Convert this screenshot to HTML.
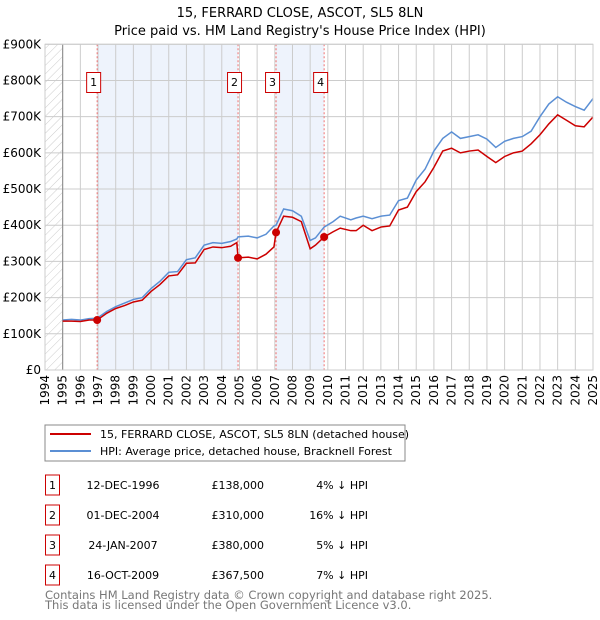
<!DOCTYPE html>
<html><head><meta charset="utf-8"><style>
body{margin:0;background:#fff;width:600px;height:620px;overflow:hidden;font-family:"DejaVu Sans","Liberation Sans",sans-serif}
svg{display:block}
</style></head><body>
<svg id="c" width="600" height="620" xmlns="http://www.w3.org/2000/svg" font-family="DejaVu Sans, Liberation Sans, sans-serif">
<defs><pattern id="hatch" width="6" height="6" patternUnits="userSpaceOnUse" patternTransform="rotate(45)"><line x1="0" y1="0" x2="0" y2="6" stroke="#ccc" stroke-width="1"/></pattern></defs>
<text x="300" y="17" text-anchor="middle" font-size="13">15, FERRARD CLOSE, ASCOT, SL5 8LN</text>
<text x="300" y="35" text-anchor="middle" font-size="13">Price paid vs. HM Land Registry's House Price Index (HPI)</text>
<g id="plot"></g>
<rect x="45" y="425" width="360" height="36" fill="#fff" stroke="#888"/>
<line x1="50" y1="434" x2="91" y2="434" stroke="#cc0000" stroke-width="2"/>
<text x="100" y="438" font-size="11">15, FERRARD CLOSE, ASCOT, SL5 8LN (detached house)</text>
<line x1="50" y1="451" x2="91" y2="451" stroke="#5b8fd4" stroke-width="2"/>
<text x="100" y="455" font-size="11">HPI: Average price, detached house, Bracknell Forest</text>
<g id="tbl" font-size="11"></g>
<text x="45" y="599" font-size="11.5" fill="#777">Contains HM Land Registry data © Crown copyright and database right 2025.</text>
<text x="45" y="609" font-size="11.5" fill="#777">This data is licensed under the Open Government Licence v3.0.</text>
</svg>
<script>
const yearTicks=[1994,1995,1996,1997,1998,1999,2000,2001,2002,2003,2004,2005,2006,2007,2008,2009,2010,2011,2012,2013,2014,2015,2016,2017,2018,2019,2020,2021,2022,2023,2024,2025];
const priceTicks=[0,100,200,300,400,500,600,700,800,900];
const priceTickLabels=["£0","£100K","£200K","£300K","£400K","£500K","£600K","£700K","£800K","£900K"];
const dates=[1995.0,1995.5,1996.0,1996.5,1996.95,1997.5,1998.0,1998.5,1999.0,1999.5,2000.0,2000.5,2001.0,2001.5,2002.0,2002.5,2003.0,2003.5,2004.0,2004.5,2004.85,2004.92,2005.5,2006.0,2006.5,2006.95,2007.07,2007.5,2008.0,2008.5,2009.0,2009.3,2009.79,2010.3,2010.7,2011.3,2011.6,2012.0,2012.5,2013.0,2013.5,2014.0,2014.5,2015.0,2015.5,2016.0,2016.5,2017.0,2017.5,2018.0,2018.5,2019.0,2019.5,2020.0,2020.5,2021.0,2021.5,2022.0,2022.5,2023.0,2023.5,2024.0,2024.5,2025.0];
const hpiValues=[138,140,138,142,143,162,175,185,195,200,225,245,270,272,305,310,345,352,350,355,362,368,370,365,375,398,400,445,440,425,358,365,395,410,425,415,420,425,418,425,428,468,475,525,555,605,640,658,640,645,650,638,615,632,640,645,660,700,735,755,740,728,718,750];
const priceValues=[135,135,134,138,138,157,170,178,188,193,217,236,260,263,295,296,333,340,338,342,352,310,312,307,320,340,380,425,422,410,335,345,367.5,382,392,385,385,400,385,395,398,442,450,493,520,560,605,613,600,605,608,590,573,590,600,605,625,650,680,705,690,675,672,699];
const saleLabels=["1","2","3","4"];
const saleDates=[1996.95,2004.92,2007.07,2009.79];
const saleValues=[138,310,380,367.5];
const saleDateText=["12-DEC-1996","01-DEC-2004","24-JAN-2007","16-OCT-2009"];
const salePriceText=["£138,000","£310,000","£380,000","£367,500"];
const saleHpiText=["4% ↓ HPI","16% ↓ HPI","5% ↓ HPI","7% ↓ HPI"];

const NS="http://www.w3.org/2000/svg";
const X0=45,X1=593,Y0=370,Y1=44.3;
const xs=d=>X0+(d-1994)/(2025-1994)*(X1-X0);
const ys=v=>Y0-v/900*(Y0-Y1);
const plot=document.getElementById('plot');
function mk(tag,attrs,parent){const e=document.createElementNS(NS,tag);for(const k in attrs)e.setAttribute(k,attrs[k]);(parent||plot).appendChild(e);return e;}

let bg=mk('rect',{x:X0,y:Y1,width:X1-X0,height:Y0-Y1,fill:'#fff'});


let h1=mk('rect',{x:X0,y:Y1,width:xs(1995)-X0,height:Y0-Y1,fill:'url(#hatch)'});


for(let i=0;i<saleDates.length;i+=2){
  let s=mk('rect',{x:xs(saleDates[i]),y:Y1,width:xs(saleDates[i+1])-xs(saleDates[i]),height:Y0-Y1,fill:'#eef3fc'});
  
  
}
priceTicks.forEach((v,i)=>{
  let l=mk('line',{x1:X0,x2:X1,y1:ys(v),y2:ys(v),stroke:'#ccc'});
  
  
  let t=mk('text',{x:X0-4,y:ys(v)+4,'text-anchor':'end','font-size':12});
  t.textContent=priceTickLabels[i];
  
  
});
yearTicks.forEach(y=>{
  let l=mk('line',{x1:xs(y),x2:xs(y),y1:Y1,y2:Y0,stroke:'#ccc'});
  
  
  let t=mk('text',{transform:`translate(${xs(y)+4},${Y0+5}) rotate(-90)`,'text-anchor':'end','font-size':12});
  t.textContent=y;
  
  
});
let ax=mk('line',{x1:xs(1995),x2:xs(1995),y1:Y1,y2:Y0,stroke:'#888'});


let ax2=mk('line',{x1:X1,x2:X1,y1:Y1,y2:Y0,stroke:'#888'});


saleDates.forEach((d,i)=>{
  let l=mk('line',{x1:xs(d),x2:xs(d),y1:Y1,y2:Y0,stroke:'#f07070','stroke-dasharray':'2,2'});
  
  
});
let hp=mk('polyline',{points:dates.map((d,i)=>xs(d)+','+ys(hpiValues[i])).join(' '),fill:'none',stroke:'#5b8fd4','stroke-width':1.5});


let pp=mk('polyline',{points:dates.map((d,i)=>xs(d)+','+ys(priceValues[i])).join(' '),fill:'none',stroke:'#cc0000','stroke-width':1.5});


saleDates.forEach((d,i)=>{
  let c=mk('circle',{cx:xs(d),cy:ys(saleValues[i]),r:4,fill:'#cc0000'});
  
  
  let b=mk('rect',{x:xs(d)-10.5,y:72.5,width:14,height:20,fill:'#fff',stroke:'#cc0000'});
  
  
  let t=mk('text',{x:xs(d)-3.5,y:86,'text-anchor':'middle','font-size':11});
  t.textContent=saleLabels[i];
  
  
});
let fr=mk('rect',{x:X0,y:Y1,width:X1-X0,height:Y0-Y1,fill:'none',stroke:'#ccc'});



const tbl=document.getElementById('tbl');
const rowY=[485,515,545,575];
saleLabels.forEach((s,i)=>{
  const y=rowY[i];
  let b=mk('rect',{x:45.5,y:y-10,width:14,height:20,fill:'#fff',stroke:'#cc0000'},tbl);
  
  
  let t=mk('text',{x:52.5,y:y+4,'text-anchor':'middle'},tbl);t.textContent=s;
  
  
  let d=mk('text',{x:123,y:y+4,'text-anchor':'middle'},tbl);d.textContent=saleDateText[i];
  
  
  let p=mk('text',{x:264,y:y+4,'text-anchor':'end'},tbl);p.textContent=salePriceText[i];
  
  
  let h=mk('text',{x:368,y:y+4,'text-anchor':'end'},tbl);h.textContent=saleHpiText[i];
  
  
});
</script>
</body></html>
